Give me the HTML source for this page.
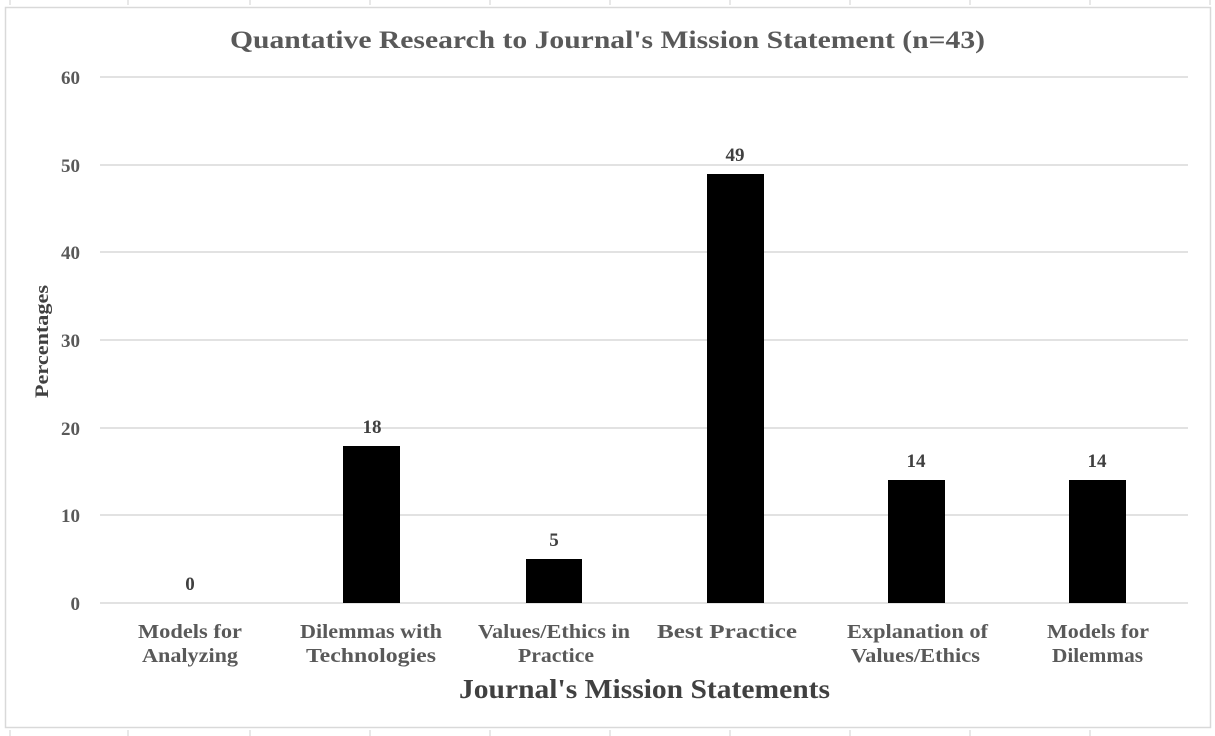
<!DOCTYPE html>
<html><head><style>
body{margin:0;background:#fff;}
svg{display:block;font-family:"Liberation Serif",serif;font-weight:bold;}
</style></head><body>
<svg width="1215" height="736" viewBox="0 0 1215 736">
<g stroke="#d0d0d0" stroke-width="1">
<line x1="10" y1="0" x2="10" y2="5"/><line x1="128" y1="0" x2="128" y2="5"/><line x1="250" y1="0" x2="250" y2="5"/><line x1="370" y1="0" x2="370" y2="5"/><line x1="490" y1="0" x2="490" y2="5"/><line x1="610" y1="0" x2="610" y2="5"/><line x1="730" y1="0" x2="730" y2="5"/><line x1="850" y1="0" x2="850" y2="5"/><line x1="970" y1="0" x2="970" y2="5"/><line x1="1090" y1="0" x2="1090" y2="5"/><line x1="1210" y1="0" x2="1210" y2="5"/>
<line x1="10" y1="730" x2="10" y2="736"/><line x1="128" y1="730" x2="128" y2="736"/><line x1="250" y1="730" x2="250" y2="736"/><line x1="370" y1="730" x2="370" y2="736"/><line x1="490" y1="730" x2="490" y2="736"/><line x1="610" y1="730" x2="610" y2="736"/><line x1="730" y1="730" x2="730" y2="736"/><line x1="850" y1="730" x2="850" y2="736"/><line x1="970" y1="730" x2="970" y2="736"/><line x1="1090" y1="730" x2="1090" y2="736"/>
</g>
<rect x="5.5" y="7.5" width="1205" height="720" fill="#fff" stroke="#d9d9d9" stroke-width="1.5"/>
<text x="230" y="48" textLength="755" lengthAdjust="spacingAndGlyphs" font-size="25" fill="#595959">Quantative Research to Journal's Mission Statement (n=43)</text>
<g stroke="#d9d9d9" stroke-width="1.5">
<line x1="100" y1="77" x2="1188" y2="77"/><line x1="100" y1="165" x2="1188" y2="165"/><line x1="100" y1="252" x2="1188" y2="252"/><line x1="100" y1="340" x2="1188" y2="340"/><line x1="100" y1="428" x2="1188" y2="428"/><line x1="100" y1="515" x2="1188" y2="515"/><line x1="100" y1="603" x2="1188" y2="603"/>
</g>
<g font-size="19" fill="#595959" text-anchor="end">
<text x="80" y="84">60</text><text x="80" y="172">50</text><text x="80" y="259">40</text><text x="80" y="347">30</text><text x="80" y="435">20</text><text x="80" y="522">10</text><text x="80" y="610">0</text>
</g>
<text transform="translate(48,398) rotate(-90)" textLength="113" lengthAdjust="spacingAndGlyphs" font-size="19" fill="#404040">Percentages</text>
<g fill="#000">
<rect x="343" y="446" width="57" height="157"/>
<rect x="526" y="559" width="56" height="44"/>
<rect x="707" y="174" width="57" height="429"/>
<rect x="888" y="480" width="57" height="123"/>
<rect x="1069" y="480" width="57" height="123"/>
</g>
<g font-size="19" fill="#404040" text-anchor="middle">
<text x="190" y="590">0</text><text x="372" y="433">18</text><text x="554" y="546">5</text><text x="735" y="161">49</text><text x="916" y="467">14</text><text x="1097" y="467">14</text>
</g>
<g font-size="20" fill="#595959" lengthAdjust="spacingAndGlyphs">
<text x="138" y="638" textLength="104" lengthAdjust="spacingAndGlyphs">Models for</text><text x="142" y="662" textLength="96" lengthAdjust="spacingAndGlyphs">Analyzing</text>
<text x="300" y="638" textLength="142" lengthAdjust="spacingAndGlyphs">Dilemmas with</text><text x="306" y="662" textLength="130" lengthAdjust="spacingAndGlyphs">Technologies</text>
<text x="478" y="638" textLength="152" lengthAdjust="spacingAndGlyphs">Values/Ethics in</text><text x="518" y="662" textLength="76" lengthAdjust="spacingAndGlyphs">Practice</text>
<text x="657" y="638" textLength="140" lengthAdjust="spacingAndGlyphs">Best Practice</text>
<text x="847" y="638" textLength="141" lengthAdjust="spacingAndGlyphs">Explanation of</text><text x="851" y="662" textLength="129" lengthAdjust="spacingAndGlyphs">Values/Ethics</text>
<text x="1047" y="638" textLength="102" lengthAdjust="spacingAndGlyphs">Models for</text><text x="1052" y="662" textLength="91" lengthAdjust="spacingAndGlyphs">Dilemmas</text>
</g>
<text x="459" y="698" textLength="371" lengthAdjust="spacingAndGlyphs" font-size="27" fill="#404040">Journal's Mission Statements</text>
</svg>
</body></html>
